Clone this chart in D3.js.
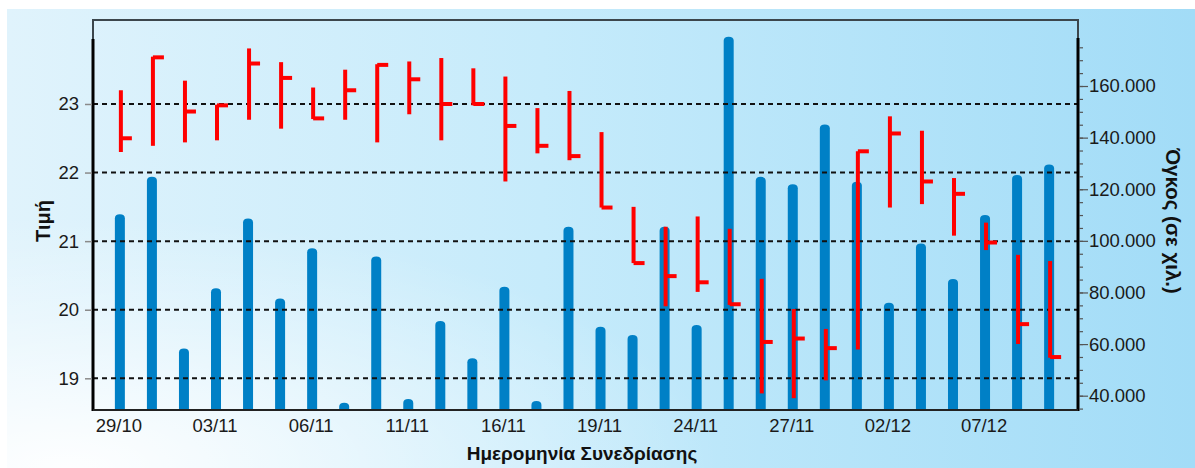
<!DOCTYPE html>
<html>
<head>
<meta charset="utf-8">
<script src="https://cdn.jsdelivr.net/npm/d3@7"></script>
<style>
  html, body { margin: 0; padding: 0; background: #ffffff; }
  svg { display: block; font-family: "Liberation Sans", Arial, sans-serif; }
</style>
</head>
<body>
<svg id="chart" width="1195" height="468"></svg>
<script>
// ---------------- DATA ----------------
const dates = ["29/10","30/10","02/11","03/11","04/11","05/11","06/11","09/11","10/11","11/11",
               "12/11","13/11","16/11","17/11","18/11","19/11","20/11","23/11","24/11","25/11",
               "26/11","27/11","30/11","01/12","02/12","03/12","04/12","07/12","08/12","09/12"];
const xTickLabels = ["29/10","03/11","06/11","11/11","16/11","19/11","24/11","27/11","02/12","07/12"];
// volume in thousands
const volume = [110.3,124.8,58.3,81.6,108.7,77.7,97.1,37.3,93.9,38.7,
                68.9,54.5,82.2,37.9,105.5,66.7,63.5,105.5,67.4,179.1,
                124.8,121.9,145.1,122.9,76.0,99.0,85.2,110.0,125.5,129.6];
const high  = [23.20,23.69,23.34,22.99,23.81,23.61,23.24,23.50,23.58,23.62,
               23.67,23.52,23.40,22.94,23.19,22.59,21.50,21.21,21.36,21.18,
               20.45,20.01,19.72,22.31,22.82,22.61,21.92,21.27,20.80,20.71];
const low   = [22.30,22.39,22.44,22.47,22.77,22.64,22.78,22.77,22.44,22.85,
               22.47,22.98,21.87,22.28,22.18,21.49,20.68,20.05,20.26,20.07,
               18.78,18.71,18.97,19.42,21.49,21.54,21.08,20.87,19.50,19.30];
const close = [22.50,23.68,22.89,22.98,23.59,23.38,22.79,23.20,23.57,23.36,
               23.00,23.00,22.68,22.39,22.24,21.49,20.68,20.49,20.40,20.08,
               19.53,19.58,19.44,22.31,22.57,21.87,21.69,20.98,19.79,19.31];
const priceTicks = [19, 20, 21, 22, 23];
const volumeTicks = [40, 60, 80, 100, 120, 140, 160];
const volumeMinorTicks = d3.range(35, 180, 5);
const priceTitle = "Τιμή";
const volumeTitle = "Όγκος (σε χιλ.)";
const xTitle = "Ημερομηνία Συνεδρίασης";

// ---------------- LAYOUT ----------------
const svg = d3.select("#chart");
const W = 1195, H = 468;
const plotL = 93, plotR = 1078, plotT = 20, plotB = 410, axisTop = 39;

const x = d3.scalePoint().domain(dates).range([92, 1077]).padding(0.87);
const yP = d3.scaleLinear().domain([18.5, 24]).range([412.6, 35.4]);
const yV = d3.scaleLinear().domain([30, 180]).range([421.5, 34.4]);

const loc = d3.formatLocale({decimal: ",", thousands: ".", grouping: [3], currency: ["", "€"]});
const fmtVol = v => loc.format(",d")(v * 1000);

// ---------------- BACKGROUND ----------------
const defs = svg.append("defs");
const lg = defs.append("linearGradient").attr("id", "bgH").attr("x1", "0").attr("x2", "1").attr("y1", "0").attr("y2", "0");
lg.append("stop").attr("offset", "0%").attr("stop-color", "#e0f3fc");
lg.append("stop").attr("offset", "45%").attr("stop-color", "#c6ebfb");
lg.append("stop").attr("offset", "100%").attr("stop-color", "#a2dcf7");
const rg = defs.append("radialGradient").attr("id", "glow")
  .attr("cx", "0.05").attr("cy", "1").attr("r", "0.55").attr("fx", "0.05").attr("fy", "1");
rg.append("stop").attr("offset", "0%").attr("stop-color", "#ffffff").attr("stop-opacity", 0.95);
rg.append("stop").attr("offset", "60%").attr("stop-color", "#ffffff").attr("stop-opacity", 0.35);
rg.append("stop").attr("offset", "100%").attr("stop-color", "#ffffff").attr("stop-opacity", 0);

svg.append("rect").attr("x", 0).attr("y", 0).attr("width", W).attr("height", H).attr("fill", "#ffffff");
svg.append("rect").attr("x", 7).attr("y", 9).attr("width", W - 7).attr("height", H - 9).attr("fill", "url(#bgH)");
svg.append("rect").attr("x", 7).attr("y", 9).attr("width", W - 7).attr("height", H - 9).attr("fill", "url(#glow)");

// ---------------- VOLUME BARS ----------------
const bw = 5;
svg.append("g").selectAll("path").data(dates).join("path")
  .attr("fill", "#0080c6")
  .attr("d", (d, i) => {
    const cx = x(d), top = yV(volume[i]);
    return `M${cx - bw},${plotB} V${top + 4} Q${cx - bw},${top} ${cx},${top} Q${cx + bw},${top} ${cx + bw},${top + 4} V${plotB} Z`;
  });

// ---------------- GRID ----------------
svg.append("g").selectAll("line").data(priceTicks).join("line")
  .attr("x1", plotL).attr("x2", plotR)
  .attr("y1", d => yP(d)).attr("y2", d => yP(d))
  .attr("stroke", "#111").attr("stroke-width", 2).attr("stroke-dasharray", "5,4");

// ---------------- HLC BARS ----------------
const hlc = svg.append("g");
hlc.selectAll("line.hl").data(dates).join("line").attr("class", "hl")
  .attr("x1", d => x(d) + 1).attr("x2", d => x(d) + 1)
  .attr("y1", (d, i) => yP(high[i])).attr("y2", (d, i) => yP(low[i]))
  .attr("stroke", "#ff0000").attr("stroke-width", 4);
hlc.selectAll("line.c").data(dates).join("line").attr("class", "c")
  .attr("x1", d => x(d) + 1).attr("x2", d => x(d) + 12)
  .attr("y1", (d, i) => yP(close[i])).attr("y2", (d, i) => yP(close[i]))
  .attr("stroke", "#ff0000").attr("stroke-width", 4);

// ---------------- FRAME ----------------
svg.append("path")
  .attr("d", `M${plotL},${axisTop} V${plotT} H${plotR} V${axisTop}`)
  .attr("fill", "none").attr("stroke", "#3c464c").attr("stroke-width", 2);
svg.append("line").attr("x1", plotL).attr("x2", plotL).attr("y1", axisTop).attr("y2", plotB + 1)
  .attr("stroke", "#000").attr("stroke-width", 3);
svg.append("line").attr("x1", plotR).attr("x2", plotR).attr("y1", axisTop - 1).attr("y2", plotB + 1)
  .attr("stroke", "#000").attr("stroke-width", 3);
svg.append("line").attr("x1", plotL).attr("x2", plotR).attr("y1", plotB).attr("y2", plotB)
  .attr("stroke", "#222").attr("stroke-width", 2);

// ---------------- AXES ----------------
const gL = svg.append("g").attr("transform", `translate(${plotL - 1},0)`)
  .call(d3.axisLeft(yP).tickValues(priceTicks).tickSize(7).tickPadding(6).tickFormat(d3.format("d")));
gL.select(".domain").remove();
gL.selectAll(".tick line").attr("stroke", "#8a8a8a").attr("stroke-width", 1.5);
gL.selectAll(".tick text").attr("fill", "#1a1a1a").style("font-size", "18.5px").style("font-family", "Liberation Sans, Arial, sans-serif");

const gRm = svg.append("g").attr("transform", `translate(${plotR + 1},0)`)
  .call(d3.axisRight(yV).tickValues(volumeMinorTicks).tickSize(4).tickFormat(""));
gRm.select(".domain").remove();
gRm.selectAll(".tick line").attr("stroke", "#555").attr("stroke-width", 1.2);

const gR = svg.append("g").attr("transform", `translate(${plotR + 1},0)`)
  .call(d3.axisRight(yV).tickValues(volumeTicks).tickSize(9).tickPadding(1).tickFormat(fmtVol));
gR.select(".domain").remove();
gR.selectAll(".tick line").attr("stroke", "#555").attr("stroke-width", 1.2);
gR.selectAll(".tick text").attr("fill", "#1a1a1a").style("font-size", "18.5px").style("font-family", "Liberation Sans, Arial, sans-serif");

const gB = svg.append("g").attr("transform", `translate(0,${plotB})`)
  .call(d3.axisBottom(x).tickValues(xTickLabels).tickSize(0).tickPadding(9));
gB.select(".domain").remove();
gB.selectAll(".tick text").attr("fill", "#1a1a1a").attr("dx", -1.5).style("font-size", "18.5px").style("font-family", "Liberation Sans, Arial, sans-serif");

// ---------------- TITLES ----------------
svg.append("text").attr("transform", "translate(50,221) rotate(-90)")
  .attr("text-anchor", "middle").attr("font-weight", "bold").attr("font-size", 20).attr("fill", "#111")
  .text(priceTitle);
svg.append("text").attr("transform", "translate(1166,221) rotate(90)")
  .attr("text-anchor", "middle").attr("font-weight", "bold").attr("font-size", 20.5).attr("fill", "#111")
  .text(volumeTitle);
svg.append("text").attr("x", 582).attr("y", 460)
  .attr("text-anchor", "middle").attr("font-weight", "bold").attr("font-size", 19).attr("fill", "#111")
  .text(xTitle);
</script>
</body>
</html>
